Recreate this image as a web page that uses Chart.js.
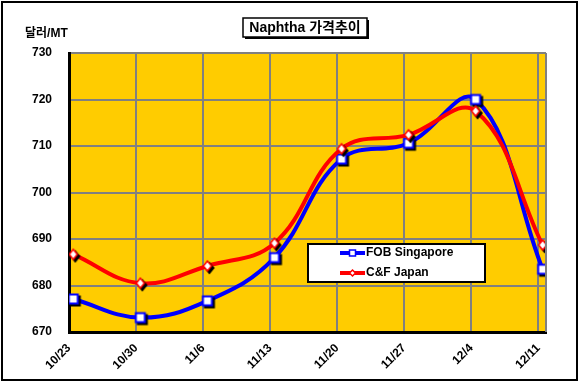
<!DOCTYPE html>
<html>
<head>
<meta charset="utf-8">
<script src="https://cdn.jsdelivr.net/npm/chart.js@4/dist/chart.umd.min.js"></script>
<style>
  html, body { margin: 0; padding: 0; background: #fff; }
  #wrap { width: 579px; height: 385px; position: relative; }
</style>
</head>
<body>
<div id="wrap"><canvas id="naphtha"></canvas></div>
<script>
'use strict';

// 주간 날짜 (x축)
var weeks = ["10/23", "10/30", "11/6", "11/13", "11/20", "11/27", "12/4", "12/11"];
// 달러/MT
var fobSingapore = [677.1, 673.1, 676.7, 686.0, 707.2, 710.6, 720.0, 683.5];
var cfJapan      = [686.7, 680.5, 684.2, 689.1, 709.4, 712.4, 717.5, 688.7];
var yTicks = [670, 680, 690, 700, 710, 720, 730];

var colors = {
  plotBg   : "#ffcc00",
  grid     : "#808080",
  fob      : "#0000ff",
  cf       : "#ff0000",
  dark     : "#000000"
};
var fontFamily = "'Liberation Sans', Arial, 'Noto Sans CJK KR', sans-serif";

// Excel 날짜축: 포인트는 주간 눈금보다 약간 오른쪽
function toPoints(arr) {
  return arr.map(function(v, i) { return { x: i * 7 + 0.45, y: v }; });
}

// 그림자 있는 마커 이미지
function makeMarker(kind, color) {
  var c = document.createElement('canvas');
  c.width = 18; c.height = 18;
  var g = c.getContext('2d');
  function shape(dx, dy) {
    g.beginPath();
    if (kind === 'rect') {
      g.rect(4.5 + dx, 4.5 + dy, 9, 9);
    } else {
      g.moveTo(9 + dx, 4 + dy);
      g.lineTo(13 + dx, 9 + dy);
      g.lineTo(9 + dx, 14 + dy);
      g.lineTo(5 + dx, 9 + dy);
      g.closePath();
    }
  }
  shape(2, 2);
  g.fillStyle = '#000';
  g.fill();
  g.lineWidth = 2; g.strokeStyle = '#000'; g.stroke();
  shape(0, 0);
  g.fillStyle = '#fff';
  g.fill();
  g.lineWidth = kind === 'rect' ? 2 : 1.5;
  g.strokeStyle = color;
  g.stroke();
  return c;
}

var fobMarker = makeMarker('rect', colors.fob);
var cfMarker = makeMarker('diamond', colors.cf);

var frame = {
  id: 'frame',
  beforeDraw: function(chart) {
    var a = chart.chartArea, ctx = chart.ctx;
    ctx.save();
    ctx.fillStyle = colors.plotBg;
    ctx.fillRect(a.left, a.top, a.right - a.left, a.bottom - a.top);
    ctx.restore();
  },
  afterDatasetsDraw: function(chart) {
    var a = chart.chartArea, ctx = chart.ctx;
    ctx.save();
    ctx.strokeStyle = colors.grid;
    ctx.lineWidth = 2;
    ctx.beginPath();
    ctx.moveTo(a.right, a.top);
    ctx.lineTo(a.right, a.bottom);
    ctx.stroke();
    ctx.restore();
  },
  afterDraw: function(chart) {
    var ctx = chart.ctx;
    ctx.save();
    // 외곽선
    ctx.strokeStyle = colors.dark;
    ctx.lineWidth = 2;
    ctx.strokeRect(2, 2, 575, 378);

    // 제목 상자
    ctx.fillStyle = colors.dark;
    ctx.fillRect(245, 20, 124, 19);
    ctx.fillStyle = '#fff';
    ctx.fillRect(243, 18, 124, 19);
    ctx.lineWidth = 1.5;
    ctx.strokeRect(243, 18, 124, 19);
    ctx.fillStyle = colors.dark;
    ctx.font = "bold 14px " + fontFamily;
    ctx.textAlign = 'center';
    ctx.textBaseline = 'middle';
    ctx.fillText("Naphtha 가격추이", 305, 28);

    // 단위
    ctx.font = "bold 12px " + fontFamily;
    ctx.textAlign = 'left';
    ctx.fillText("달러/MT", 25, 34);

    // 범례
    ctx.fillStyle = '#fff';
    ctx.fillRect(308, 244, 177, 38);
    ctx.lineWidth = 2;
    ctx.strokeStyle = colors.dark;
    ctx.strokeRect(308, 244, 177, 38);
    var items = [
      { label: chart.data.datasets[0].label, color: colors.fob, kind: 'rect', y: 253 },
      { label: chart.data.datasets[1].label, color: colors.cf, kind: 'diamond', y: 273 }
    ];
    items.forEach(function(it) {
      ctx.strokeStyle = it.color;
      ctx.lineWidth = 4;
      ctx.beginPath();
      ctx.moveTo(340, it.y);
      ctx.lineTo(365, it.y);
      ctx.stroke();
      ctx.fillStyle = '#fff';
      ctx.lineWidth = 1.5;
      ctx.beginPath();
      if (it.kind === 'rect') {
        ctx.rect(349.5, it.y - 3, 6, 6);
      } else {
        ctx.moveTo(352.5, it.y - 3);
        ctx.lineTo(355.5, it.y);
        ctx.lineTo(352.5, it.y + 3);
        ctx.lineTo(349.5, it.y);
        ctx.closePath();
      }
      ctx.fill();
      ctx.stroke();
      ctx.fillStyle = colors.dark;
      ctx.font = "bold 12px " + fontFamily;
      ctx.textAlign = 'left';
      ctx.textBaseline = 'middle';
      ctx.fillText(it.label, 366, it.y);
    });
    ctx.restore();
  }
};

new Chart(document.getElementById('naphtha'), {
  type: 'line',
  data: {
    datasets: [
      {
        label: "FOB Singapore",
        data: toPoints(fobSingapore),
        borderColor: colors.fob,
        borderWidth: 4,
        pointStyle: fobMarker,
        tension: 0.4,
        order: 1
      },
      {
        label: "C&F Japan",
        data: toPoints(cfJapan),
        borderColor: colors.cf,
        borderWidth: 4,
        pointStyle: cfMarker,
        tension: 0.4,
        order: 0
      }
    ]
  },
  plugins: [frame],
  options: {
    responsive: true,
    maintainAspectRatio: false,
    animation: false,
    layout: { padding: { left: 0, top: 53, right: 33, bottom: 0 } },
    plugins: {
      legend: { display: false },
      tooltip: { enabled: false }
    },
    scales: {
      x: {
        type: 'linear',
        min: 0,
        max: 49.8,
        afterBuildTicks: function(scale) {
          scale.ticks = weeks.map(function(w, i) { return { value: i * 7 }; });
        },
        afterFit: function(scale) { scale.height = 53; },
        border: { color: colors.dark, width: 3 },
        grid: {
          color: colors.grid,
          lineWidth: 2,
          drawTicks: false
        },
        ticks: {
          color: colors.dark,
          autoSkip: false,
          minRotation: 45,
          maxRotation: 45,
          padding: 9,
          font: { size: 12, weight: 'bold', family: fontFamily },
          callback: function(v) { return weeks[Math.round(v / 7)]; }
        }
      },
      y: {
        min: 670,
        max: 730,
        afterBuildTicks: function(scale) {
          scale.ticks = yTicks.map(function(v) { return { value: v }; });
        },
        afterFit: function(scale) { scale.width = 69; },
        border: { color: colors.dark, width: 3 },
        grid: {
          color: colors.grid,
          lineWidth: 2,
          drawTicks: false
        },
        ticks: {
          color: colors.dark,
          padding: 17,
          font: { size: 12, weight: 'bold', family: fontFamily }
        }
      }
    }
  }
});
</script>
</body>
</html>
